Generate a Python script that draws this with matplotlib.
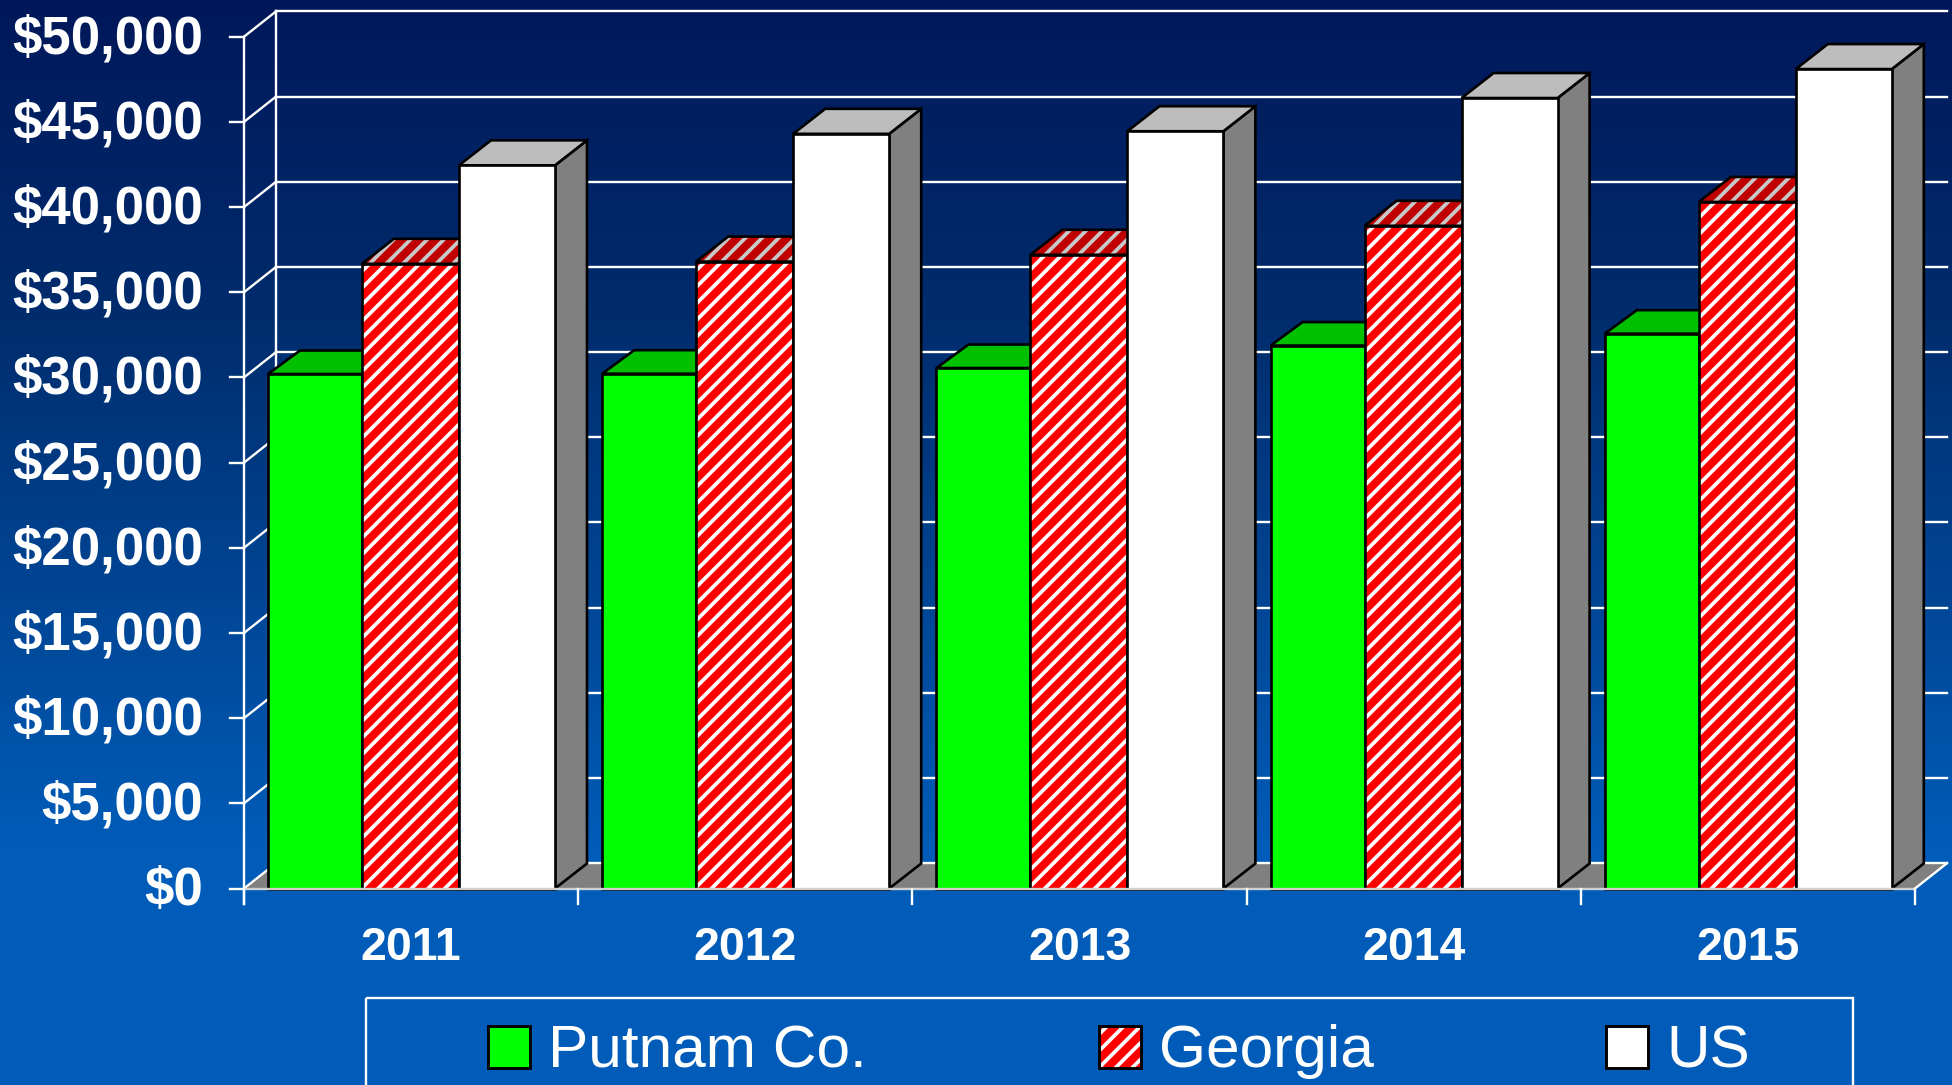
import numpy as np
import matplotlib
matplotlib.use('Agg')
import matplotlib.pyplot as plt
from matplotlib.colors import LinearSegmentedColormap
from matplotlib.patches import Polygon, Rectangle

years = ['2011', '2012', '2013', '2014', '2015']
putnam = [30200, 30220, 30550, 31870, 32570]
georgia = [36670, 36800, 37200, 38900, 40300]
us = [42450, 44300, 44450, 46400, 48100]
yticks = [0, 5000, 10000, 15000, 20000, 25000, 30000, 35000, 40000, 45000, 50000]
legend_names = ['Putnam Co.', 'Georgia', 'US']

W, H = 1952, 1085
plt.rcParams['font.family'] = ['Liberation Sans', 'DejaVu Sans']
plt.rcParams['hatch.linewidth'] = 2.7

fig = plt.figure(figsize=(W / 100, H / 100), dpi=100)

# backdrop in pixel coordinates, also holds the legend
bg = fig.add_axes([0, 0, 1, 1])
bg.set_xlim(0, W)
bg.set_ylim(H, 0)
bg.axis('off')
cmap = LinearSegmentedColormap.from_list('back', [(0.0, '#00185a'), (0.3, '#002d6e'), (0.78, '#005cb8'), (1.0, '#005cb8')])
bg.imshow(np.linspace(0, 1, 256).reshape(-1, 1), cmap=cmap, aspect='auto', extent=[0, W, H, 0], zorder=0)

# front plane of the chart
x0, x1, y0, y1 = 244, 1915, 888.5, 36.7
ax = fig.add_axes([x0 / W, 1 - y0 / H, (x1 - x0) / W, (y0 - y1) / H])
ax.set_xlim(0, 5)
ax.set_ylim(0, 50000)
ax.axis('off')
ax.patch.set_alpha(0)


def px_x(p):
    return p / (x1 - x0) * 5


def px_y(p):
    return p / (y0 - y1) * 50000


# depth of the 3D look
dx = px_x(32)
dy = px_y(25.3)
lw_w = 1.7
lw_k = 1.9

# floor
ax.add_patch(Polygon([(0, 0), (dx, dy), (5 + dx, dy), (5, 0)], closed=True, fc='#808080', ec='none', clip_on=False, zorder=1))
ax.plot([0, dx], [0, dy], color='white', lw=lw_w, clip_on=False, zorder=1.5)
ax.plot([5, 5 + dx], [0, dy], color='white', lw=lw_w, clip_on=False, zorder=1.5)

# walls
for v in yticks:
    ax.plot([dx, 5 + dx], [v + dy, v + dy], color='white', lw=lw_w, clip_on=False, zorder=1.5)
    if v > 0:
        ax.plot([0, dx], [v, v + dy], color='white', lw=lw_w, clip_on=False, zorder=1.5)
    ax.plot([px_x(-14), 0], [v, v], color='white', lw=lw_w, clip_on=False, zorder=1.5)
    ax.text(px_x(-41), v + px_y(3), '${:,}'.format(v), color='white', fontsize=38, fontweight='bold',
            ha='right', va='center_baseline', clip_on=False)
ax.plot([dx, dx], [dy, 50000 + dy], color='white', lw=lw_w, clip_on=False, zorder=1.5)
ax.plot([0, 0], [px_y(-15), 50000], color='white', lw=lw_w, clip_on=False, zorder=1.5)

# bar layout per series: pixel offset inside a group, pixel width, pixel depth upward
offsets = [24, 118, 215]
widths = [94, 97, 96]
bar_dy = [23.5, 25, 25]

z = 2
styles = [
    (putnam, '#00ff00', '#00c000', None),
    (georgia, '#ff0000', '#c00000', '//'),
    (us, '#ffffff', '#bdbdbd', None),
]
for i in range(5):
    for j, (vals, front, top, hatch) in enumerate(styles):
        left = i + px_x(offsets[j])
        bar_w = px_x(widths[j])
        right = left + bar_w
        v = vals[i]
        d = px_y(bar_dy[j])
        # side
        ax.add_patch(Polygon([(right, 0), (right + dx, d), (right + dx, v + d), (right, v)], closed=True,
                             fc='#808080', ec='black', lw=lw_k, clip_on=False, zorder=z))
        # top
        corners = [(left, v), (left + dx, v + d), (right + dx, v + d), (right, v)]
        if hatch:
            ax.add_patch(Polygon(corners, closed=True, fc=top, ec='#c8c8c8', hatch=hatch, lw=0, clip_on=False, zorder=z))
            ax.add_patch(Polygon(corners, closed=True, fill=False, ec='black', lw=lw_k, clip_on=False, zorder=z))
        else:
            ax.add_patch(Polygon(corners, closed=True, fc=top, ec='black', lw=lw_k, clip_on=False, zorder=z))
        # front
        if hatch:
            ax.bar(left, v, bar_w, align='edge', color=front, edgecolor='white', hatch=hatch, linewidth=0, clip_on=False, zorder=z)
            ax.bar(left, v, bar_w, align='edge', fill=False, edgecolor='black', linewidth=lw_k, clip_on=False, zorder=z)
        else:
            ax.bar(left, v, bar_w, align='edge', color=front, edgecolor='black', linewidth=lw_k, clip_on=False, zorder=z)
        z += 0.01

# front axis line and category ticks go over the bars
ax.plot([0, 5], [0, 0], color='#d0d0d0', lw=lw_w, clip_on=False, zorder=10)
for i in range(6):
    ax.plot([i, i], [0, px_y(-15)], color='white', lw=lw_w, clip_on=False, zorder=10)
for i, yr in enumerate(years):
    ax.text(i + 0.5, px_y(-54), yr, color='white', fontsize=33.5, fontweight='bold',
            ha='center', va='center_baseline', clip_on=False)

# legend, box runs off the bottom of the picture
bg.add_patch(Rectangle((366, 998), 1487, 120, fill=False, ec='white', lw=lw_w, zorder=2))
leg_x = [488, 1099, 1606]
text_x = [548, 1159, 1666]
leg_col = ['#00ff00', '#ff0000', '#ffffff']
for lx, tx, c, name in zip(leg_x, text_x, leg_col, legend_names):
    if c == '#ff0000':
        bg.add_patch(Rectangle((lx, 1026), 42, 42, fc=c, ec='white', hatch='//', lw=0, zorder=2))
        bg.add_patch(Rectangle((lx, 1026), 42, 42, fill=False, ec='black', lw=lw_k + 0.2, zorder=2))
    else:
        bg.add_patch(Rectangle((lx, 1026), 42, 42, fc=c, ec='black', lw=lw_k + 0.2, zorder=2))
    bg.text(tx, 1067, name, color='white', fontsize=43.5, ha='left', va='baseline', zorder=2)

plt.savefig('out.png', dpi=100)
